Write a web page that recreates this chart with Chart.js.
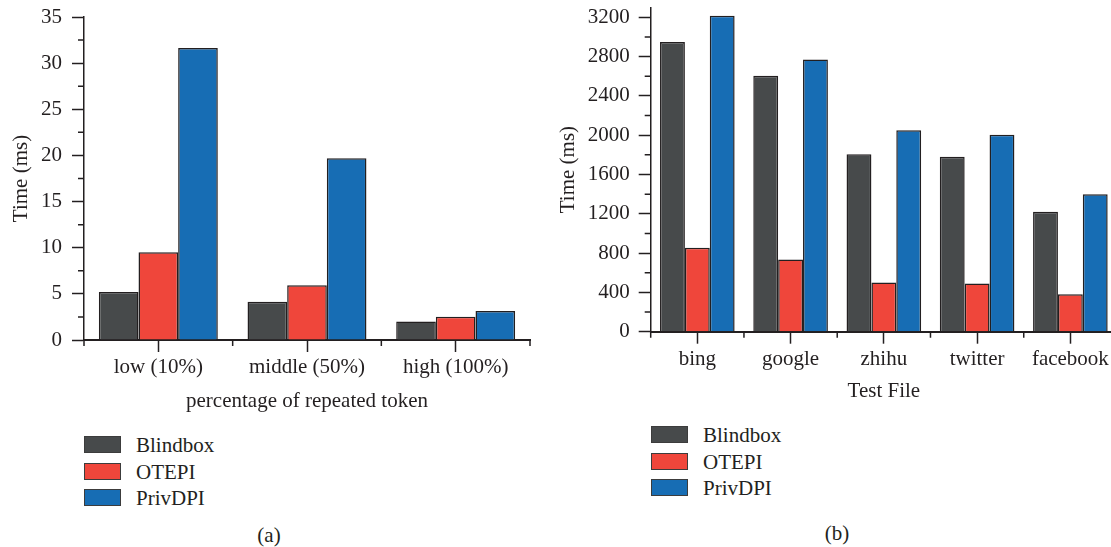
<!DOCTYPE html>
<html>
<head>
<meta charset="utf-8">
<script src="https://cdn.jsdelivr.net/npm/chart.js@4.4.1/dist/chart.umd.min.js"></script>
<style>
  html, body { margin: 0; padding: 0; background: #fff; overflow: hidden; }
  body { width: 1111px; height: 547px; position: relative; font-family: "Liberation Serif", "DejaVu Serif", serif; color: #231f20; }
  canvas { position: absolute; top: 0; }
  .legend { position: absolute; }
  .legend .row { position: absolute; left: 0; height: 18px; white-space: nowrap; }
  .legend .box { position: absolute; left: 0; top: 0; width: 35px; height: 15px; border: 1.5px solid #3c3c3c; }
  .legend .txt { position: absolute; top: 50%; transform: translateY(-50%); font-size: 21px; line-height: 25px; }
  .caption { position: absolute; font-size: 21px; line-height: 25px; transform: translate(-50%, -50%); }
</style>
</head>
<body>
<canvas id="chartA" width="560" height="420" style="left:0px"></canvas>
<canvas id="chartB" width="582" height="420" style="left:545px"></canvas>
<div class="legend" id="legendA" style="left:84px; top:436px"></div>
<div class="legend" id="legendB" style="left:651px; top:426px"></div>
<div class="caption" style="left:269px; top:535px">(a)</div>
<div class="caption" style="left:837px; top:533px">(b)</div>
<script>
// Series names and colours
const seriesNames = ['Blindbox', 'OTEPI', 'PrivDPI'];
const seriesColors = ['#474a4b', '#ef463b', '#176db4'];

// (a) processing time by share of repeated tokens
const categoriesA = ['low (10%)', 'middle (50%)', 'high (100%)'];
const blindboxA = [5.2, 4.15, 2.0];
const otepiA = [9.5, 5.93, 2.53];
const privdpiA = [31.65, 19.7, 3.15];
const yTicksA = [0, 5, 10, 15, 20, 25, 30, 35];

// (b) processing time per test file
const categoriesB = ['bing', 'google', 'zhihu', 'twitter', 'facebook'];
const blindboxB = [2950, 2605, 1805, 1780, 1220];
const otepiB = [855, 735, 500, 490, 380];
const privdpiB = [3215, 2770, 2050, 2005, 1400];
const yTicksB = [0, 400, 800, 1200, 1600, 2000, 2400, 2800, 3200];

const INK = '#231f20';
const FONT = "'Liberation Serif', 'DejaVu Serif', serif";
const FONT_SIZE = 21;

// Short minor ticks on the y axis and boundary ticks between categories
const minorTicks = {
  id: 'minorTicks',
  afterDraw(chart, args, opts) {
    const { ctx, chartArea, scales: { x, y } } = chart;
    ctx.save();
    ctx.strokeStyle = INK;
    ctx.lineWidth = 1.5;
    ctx.beginPath();
    for (let v = y.min; v <= y.max + 1e-9; v += opts.minorStep) {
      const r = v / opts.majorStep;
      if (Math.abs(r - Math.round(r)) < 1e-6) continue;
      const py = y.getPixelForValue(v);
      ctx.moveTo(chartArea.left, py);
      ctx.lineTo(chartArea.left - 6, py);
    }
    const n = x.ticks.length;
    for (let i = 0; i <= n; i++) {
      const px = x.left + i * x.width / n;
      ctx.moveTo(px, chartArea.bottom);
      ctx.lineTo(px, chartArea.bottom + 6);
    }
    ctx.stroke();
    ctx.restore();
  }
};

function makeChart(id, cfg) {
  const datasets = cfg.series.map((vals, i) => ({
    label: seriesNames[i],
    data: vals,
    backgroundColor: seriesColors[i],
    borderColor: INK,
    borderWidth: 1.5,
    categoryPercentage: 0.8,
    barPercentage: 1.0
  }));
  const font = { family: FONT, size: FONT_SIZE };
  return new Chart(document.getElementById(id), {
    type: 'bar',
    data: { labels: cfg.labels, datasets },
    plugins: [minorTicks],
    options: {
      responsive: false,
      animation: false,
      devicePixelRatio: 1,
      layout: { padding: { top: cfg.padTop, right: cfg.padRight, left: 0, bottom: 0 } },
      plugins: {
        legend: { display: false },
        tooltip: { enabled: false },
        minorTicks: { minorStep: cfg.minorStep, majorStep: cfg.majorStep }
      },
      scales: {
        x: {
          offset: true,
          grid: { display: true, drawOnChartArea: false, offset: false, tickLength: 12, tickWidth: 1.5, tickColor: INK },
          border: { display: true, color: INK, width: 2 },
          ticks: { color: INK, font, padding: 3, autoSkip: false, maxRotation: 0 },
          title: { display: true, text: cfg.xTitle, color: INK, font, padding: { top: 0, bottom: cfg.xTitlePad } },
          afterFit(s) { s.height = cfg.xHeight; s.paddingLeft = 0; s.paddingRight = 0; }
        },
        y: {
          min: 0,
          max: cfg.yMax,
          grid: { display: true, drawOnChartArea: false, tickLength: 12, tickWidth: 1.5, tickColor: INK },
          border: { display: true, color: INK, width: 1.5 },
          ticks: { color: INK, font, padding: cfg.yTickPad, callback: (v) => String(v) },
          afterBuildTicks(s) { s.ticks = cfg.yTicks.map((v) => ({ value: v })); },
          title: { display: true, text: 'Time (ms)', color: INK, font, padding: { top: cfg.yTitlePad, bottom: 0 } },
          afterFit(s) { s.width = cfg.yWidth; s.paddingTop = 0; s.paddingBottom = 0; }
        }
      }
    }
  });
}

makeChart('chartA', {
  labels: categoriesA,
  series: [blindboxA, otepiA, privdpiA],
  yTicks: yTicksA,
  xTitle: 'percentage of repeated token',
  yMax: 35, majorStep: 5, minorStep: 2.5,
  padTop: 17, padRight: 30,
  xHeight: 80, xTitlePad: 5.7,
  yWidth: 84, yTickPad: 10, yTitlePad: 8.4
});

makeChart('chartB', {
  labels: categoriesB,
  series: [blindboxB, otepiB, privdpiB],
  yTicks: yTicksB,
  xTitle: 'Test File',
  yMax: 3300, majorStep: 400, minorStep: 200,
  padTop: 7.5, padRight: 10,
  xHeight: 88.3, xTitlePad: 15.7,
  yWidth: 105.7, yTickPad: 9, yTitlePad: 10.7
});

// Legends listing the three schemes
function buildLegend(id) {
  const el = document.getElementById(id);
  seriesNames.forEach((name, i) => {
    const row = document.createElement('div');
    row.className = 'row';
    row.style.top = (i * 26.7) + 'px';
    const box = document.createElement('div');
    box.className = 'box';
    box.style.background = seriesColors[i];
    const txt = document.createElement('div');
    txt.className = 'txt';
    txt.style.left = '52px';
    txt.textContent = name;
    row.appendChild(box);
    row.appendChild(txt);
    el.appendChild(row);
  });
}
buildLegend('legendA');
buildLegend('legendB');
</script>
</body>
</html>
